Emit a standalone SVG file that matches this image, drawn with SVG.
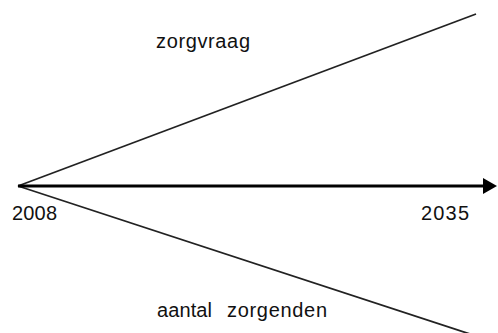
<svg xmlns="http://www.w3.org/2000/svg" width="498" height="333" viewBox="0 0 498 333">
<style>
.t{font-family:"Liberation Sans",Arial,sans-serif;font-size:20px;fill:#111}
.ln{stroke:#222;stroke-width:1.8;fill:none}
</style>
<rect width="498" height="333" fill="#fff"/>
<g id="connectors">
<line class="ln" x1="18" y1="186" x2="476" y2="14"/>
<line class="ln" x1="18" y1="186" x2="470" y2="334"/>
<line x1="18" y1="186" x2="484" y2="186" stroke="#000" stroke-width="3"/>
<path d="M483,178 L497,186 L483,194 z" fill="#000"/>
</g>
<g id="label-zorgvraag"><text class="t" x="156" y="48" textLength="94">zorgvraag</text></g>
<g id="label-2008"><text class="t" x="12" y="220" textLength="45">2008</text></g>
<g id="label-2035"><text class="t" x="421" y="220" textLength="48">2035</text></g>
<g id="label-aantal"><text class="t" y="317"><tspan x="157" textLength="55">aantal</tspan><tspan x="227" textLength="100">zorgenden</tspan></text></g>
</svg>
